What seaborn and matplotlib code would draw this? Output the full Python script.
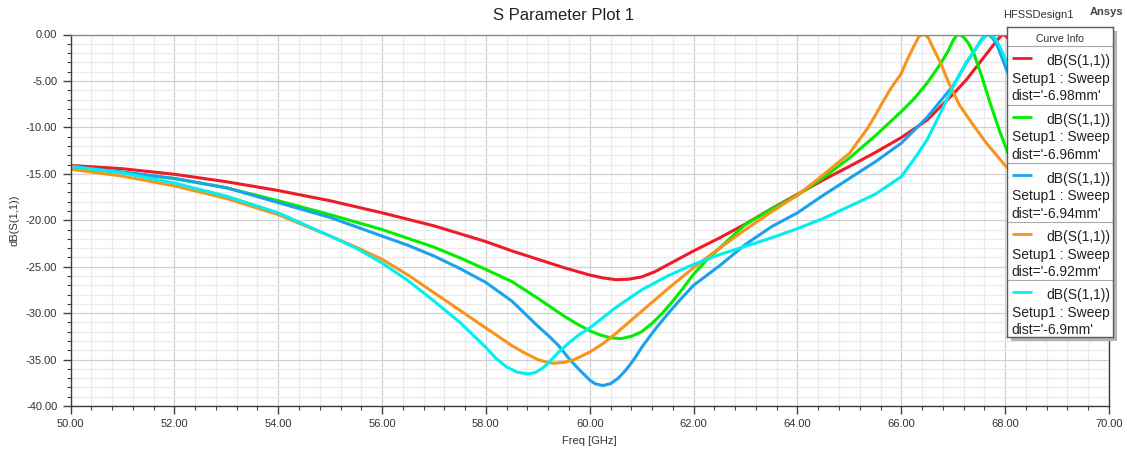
import matplotlib
matplotlib.use("Agg")
import matplotlib.pyplot as plt
import numpy as np
import pandas as pd
import seaborn as sns
from matplotlib.ticker import MultipleLocator, FormatStrFormatter
from matplotlib.patches import Rectangle

# ---- sweep results: return loss dB(S(1,1)) vs frequency for each dist value ----
dist_labels = ["-6.98mm", "-6.96mm", "-6.94mm", "-6.92mm", "-6.9mm"]
curve_colors = ["#ee1c25", "#00ee00", "#1aa3ec", "#f7941d", "#00f0f0"]

freq_698 = [50, 51, 52, 53, 54, 55, 56, 57, 58, 58.5, 59, 59.5, 60, 60.25, 60.5, 60.75,
            61, 61.25, 61.5, 61.75, 62, 62.5, 63, 63.5, 64, 64.5, 65, 65.5, 66, 66.5,
            67, 67.25, 67.5, 67.75, 67.88, 67.95, 68.02, 68.1, 68.3]
db_698 = [-14.1, -14.45, -15.05, -15.85, -16.8, -17.9, -19.2, -20.6, -22.3, -23.3, -24.2,
          -25.1, -25.9, -26.2, -26.4, -26.35, -26.1, -25.55, -24.8, -24.05, -23.3, -21.9,
          -20.4, -18.75, -17.2, -15.65, -14.2, -12.7, -11.1, -9.2, -6.4, -4.9, -3.1,
          -1.3, -0.4, 0.0, -0.2, -0.7, -2.5]

freq_696 = [50, 51, 52, 53, 54, 55, 56, 57, 57.5, 58, 58.5, 59, 59.5, 59.75, 60, 60.2,
            60.4, 60.6, 60.8, 61, 61.2, 61.4, 61.6, 61.8, 62, 62.25, 62.5, 62.75, 63,
            63.5, 64, 64.5, 65, 65.5, 66, 66.25, 66.5, 66.75, 66.9, 67.0, 67.06, 67.1,
            67.15, 67.22, 67.3, 67.4, 67.55, 67.7, 67.9, 68.05, 68.3]
db_696 = [-14.3, -14.85, -15.5, -16.5, -17.9, -19.4, -21.0, -22.9, -24.05, -25.3, -26.6,
          -28.4, -30.3, -31.15, -31.9, -32.35, -32.65, -32.75, -32.5, -32.0, -31.1,
          -30.0, -28.7, -27.3, -25.8, -24.3, -23.0, -21.7, -20.45, -18.8, -17.3, -15.4,
          -13.3, -10.9, -8.3, -6.9, -5.2, -3.2, -1.8, -0.6, -0.15, 0.0, -0.1, -0.4,
          -1.0, -2.1, -4.5, -7.2, -10.5, -12.7, -15.5]

freq_694 = [50, 51, 52, 53, 54, 55, 56, 56.5, 57, 57.5, 58, 58.5, 59, 59.2, 59.4, 59.6,
            59.8, 60.0, 60.1, 60.25, 60.4, 60.55, 60.7, 60.85, 61, 61.25, 61.5, 61.75,
            62, 62.5, 63, 63.5, 64, 64.5, 65, 65.5, 66, 66.5, 67, 67.25, 67.45, 67.55,
            67.6, 67.65, 67.7, 67.76, 67.85, 68.0, 68.15, 68.3]
db_694 = [-14.2, -14.8, -15.5, -16.5, -18.1, -19.7, -21.7, -22.7, -23.85, -25.2, -26.7,
          -28.7, -31.4, -32.4, -33.5, -34.9, -36.1, -37.2, -37.6, -37.8, -37.6, -37.0,
          -36.1, -35.0, -33.7, -31.8, -30.1, -28.5, -27.0, -24.9, -22.6, -20.7, -19.2,
          -17.3, -15.5, -13.7, -11.7, -8.9, -5.5, -3.1, -1.4, -0.5, -0.15, 0.0, -0.1,
          -0.4, -1.2, -3.4, -5.5, -8.0]

freq_692 = [50, 51, 52, 53, 54, 55, 55.5, 56, 56.5, 57, 57.5, 58, 58.5, 58.75, 59, 59.15,
            59.3, 59.5, 59.7, 60, 60.25, 60.5, 60.75, 61, 61.5, 62, 62.5, 63, 63.5, 64,
            64.5, 65, 65.35, 65.5, 65.65, 65.8, 66, 66.1, 66.22, 66.33, 66.38, 66.42,
            66.46, 66.52, 66.6, 66.75, 66.93, 67.12, 67.38, 67.64, 68.0, 68.3]
db_692 = [-14.5, -15.25, -16.3, -17.65, -19.4, -21.7, -22.9, -24.2, -25.9, -27.8, -29.7,
          -31.6, -33.5, -34.3, -35.0, -35.25, -35.4, -35.3, -35.0, -34.2, -33.3, -32.2,
          -31.0, -29.8, -27.4, -25.1, -23.0, -21.0, -19.1, -17.3, -15.1, -12.8, -10.1,
          -8.7, -7.2, -5.8, -4.2, -2.9, -1.5, -0.3, -0.05, 0.0, -0.05, -0.35, -1.3,
          -3.0, -5.4, -7.6, -9.7, -11.7, -14.1, -15.7]

freq_690 = [50, 51, 52, 53, 54, 55, 55.5, 56, 56.5, 57, 57.5, 58, 58.2, 58.4, 58.6, 58.8,
            58.95, 59.1, 59.25, 59.4, 59.6, 59.8, 60, 60.5, 61, 61.5, 62, 62.5, 63, 63.5,
            64, 64.5, 65, 65.5, 66, 66.3, 66.5, 66.75, 67, 67.25, 67.5, 67.6, 67.65,
            67.69, 67.74, 67.8, 67.88, 68.0, 68.3]
db_690 = [-14.2, -14.9, -16.0, -17.4, -19.2, -21.7, -23.0, -24.6, -26.5, -28.7, -31.0,
          -33.7, -34.9, -35.8, -36.35, -36.55, -36.4, -35.9, -35.1, -34.2, -33.2, -32.3,
          -31.6, -29.4, -27.5, -26.0, -24.75, -23.7, -22.8, -21.9, -20.9, -19.8, -18.5,
          -17.2, -15.3, -13.0, -11.3, -8.5, -5.6, -3.0, -1.0, -0.3, -0.08, 0.0, -0.1,
          -0.4, -1.1, -2.6, -6.0]

sweeps = [(freq_698, db_698), (freq_696, db_696), (freq_694, db_694),
          (freq_692, db_692), (freq_690, db_690)]

df = pd.concat(
    [pd.DataFrame({"freq": f, "db": d, "dist": lab})
     for (f, d), lab in zip(sweeps, dist_labels)],
    ignore_index=True,
)

# ---- figure layout (pixel based) ----
W, H, DPI = 1127, 454, 100
AX_L, AX_R, AX_T, AX_B = 70.5, 1109, 34.5, 406

sns.set_theme(style="white")
plt.rcParams["font.family"] = ["Liberation Sans", "DejaVu Sans"]

fig = plt.figure(figsize=(W / DPI, H / DPI), dpi=DPI)
fig.patch.set_facecolor("white")
ax = fig.add_axes([AX_L / W, 1 - AX_B / H, (AX_R - AX_L) / W, (AX_B - AX_T) / H])

sns.lineplot(data=df, x="freq", y="db", hue="dist", hue_order=dist_labels,
             palette=curve_colors, estimator=None, sort=False, linewidth=2.2,
             legend=False, ax=ax)
for ln in ax.get_lines():
    ln.set_solid_joinstyle("round")

ax.set_xlim(50, 70)
ax.set_ylim(-40, 0)
ax.xaxis.set_major_locator(MultipleLocator(2))
ax.xaxis.set_minor_locator(MultipleLocator(0.4))
ax.yaxis.set_major_locator(MultipleLocator(5))
ax.yaxis.set_minor_locator(MultipleLocator(1))
ax.xaxis.set_major_formatter(FormatStrFormatter("%.2f"))
ax.yaxis.set_major_formatter(FormatStrFormatter("%.2f"))

ax.set_axisbelow(True)
ax.grid(which="major", color="#d0d0d0", linewidth=0.9)
ax.grid(which="minor", color="#ebebeb", linewidth=0.9)

ax.tick_params(which="both", bottom=True, left=True, top=False, right=False,
               direction="out", color="#404040")
ax.tick_params(which="major", length=6, width=1, labelsize=8,
               labelcolor="#333333", pad=3.5)
ax.tick_params(which="minor", length=3, width=0.8)

for side in ("left", "bottom", "right"):
    ax.spines[side].set_color("#3c3c3c")
    ax.spines[side].set_linewidth(1.0)
ax.spines["top"].set_color("#8a8a8a")
ax.spines["top"].set_linewidth(1.0)

ax.set_xlabel("Freq [GHz]", fontsize=8, color="#333333", va="center")
ax.xaxis.set_label_coords(0.5, (AX_B - 441) / (AX_B - AX_T))
ax.set_ylabel("dB(S(1,1))", fontsize=8, color="#333333", va="center")
ax.yaxis.set_label_coords((14 - AX_L) / (AX_R - AX_L), 0.5)

# ---- header texts ----
fig.text(563.5 / W, 1 - 15 / H, "S Parameter Plot 1", ha="center", va="center",
         fontsize=12, color="#222222")
fig.text(1003 / W, 1 - 15 / H, "HFSSDesign1", ha="left", va="center",
         fontsize=8, color="#333333")
fig.text(1090 / W, 1 - 12 / H, "Ansys", ha="left", va="center",
         fontsize=8, fontweight="bold", color="#444444")

# ---- "Curve Info" legend box with drop shadow ----
LG_L, LG_T, LG_W, LG_H = 1007, 27, 106, 310
fig.add_artist(Rectangle(((LG_L + 4) / W, 1 - (LG_T + LG_H + 4) / H),
                         LG_W / W, LG_H / H, transform=fig.transFigure,
                         facecolor="#b4b4b4", edgecolor="none", zorder=1))

lax = fig.add_axes([LG_L / W, 1 - (LG_T + LG_H) / H, LG_W / W, LG_H / H])
lax.set_zorder(2)
lax.set_facecolor("white")
lax.set_xlim(0, LG_W)
lax.set_ylim(LG_H, 0)
lax.set_xticks([])
lax.set_yticks([])
for sp in lax.spines.values():
    sp.set_color("#5a5a5a")
    sp.set_linewidth(1.0)

lax.text(LG_W / 2, 11.5, "Curve Info", ha="center", va="center",
         fontsize=7.5, color="#333333")
lax.plot([0, LG_W], [19, 19], color="#a8a8a8", lw=0.8)

entry_h = 58.5
for i, (lab, col) in enumerate(zip(dist_labels, curve_colors)):
    top = 19 + i * entry_h
    lax.plot([5, 25], [top + 12, top + 12], color=col, lw=2.0,
             solid_capstyle="butt")
    lax.text(103.7, top + 15.5, "dB(S(1,1))", ha="right", va="center",
             fontsize=10, color="#222222")
    lax.text(4.5, top + 33, "Setup1 : Sweep", ha="left", va="center",
             fontsize=10, color="#222222")
    lax.text(4.5, top + 50.5, f"dist='{lab}'", ha="left", va="center",
             fontsize=10, color="#222222")
    if i < len(dist_labels) - 1:
        lax.plot([0, LG_W], [top + entry_h] * 2, color="#a8a8a8", lw=0.8)

fig.savefig("out.png", dpi=DPI, facecolor="white")
